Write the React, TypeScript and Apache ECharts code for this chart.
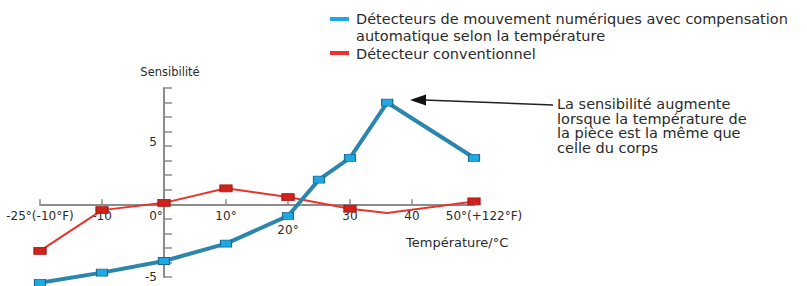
import React, { useEffect, useRef } from "react";
import * as echarts from "echarts";

// Temperature positions (°C, on the chart's schematic scale: the "-25" point sits one step left of -10)
const compensatedTemp = [-20, -10, 0, 10, 20, 25, 30, 36, 50];
const compensatedSens = [-5.4, -4.7, -3.9, -2.7, -0.8, 1.7, 3.2, 7.0, 3.2];
const conventionalTemp = [-20, -10, 0, 10, 20, 30, 36, 50];
const conventionalSens = [-3.2, -0.4, 0.1, 1.1, 0.5, -0.3, -0.6, 0.2];
const conventionalMarked = [true, true, true, true, true, true, false, true];

const xTickValues = [-20, -10, 0, 10, 20, 30, 40, 50];
const xTickLabels = ["-25°(-10°F)", "-10", "0°", "10°", "20°", "30", "40", "50°(+122°F)"];
const yLabelValues = [5, -5];

const seriesNames = [
  "Détecteurs de mouvement numériques avec compensation automatique selon la température",
  "Détecteur conventionnel",
];

const TEXT = "#2a2a2a";
const AXIS = "#8c8c8c";
const FONT = "DejaVu Sans";

const X_MIN = -20;
const X_MAX = 50;
const Y_MIN = -5;
const Y_MAX = 8;
const GRID = { left: 40, right: 333, top: 88, bottom: 9 };
const W = 807;
const H = 286;

export default function App() {
  const ref = useRef<HTMLDivElement>(null);

  useEffect(() => {
    if (!ref.current) return;
    const chart = echarts.init(ref.current, undefined, { renderer: "svg" });

    const gw = W - GRID.left - GRID.right;
    const gh = H - GRID.top - GRID.bottom;
    // shift axes so they cross at the origin (labels follow)
    const zeroYFromBottom = ((0 - Y_MIN) / (Y_MAX - Y_MIN)) * gh;
    const zeroXFromLeft = ((0 - X_MIN) / (X_MAX - X_MIN)) * gw;

    const baseRich = { fontFamily: FONT, fontSize: 12, color: TEXT };

    const option: any = {
      animation: false,
      grid: { ...GRID, containLabel: false, outerBoundsMode: "none" },
      xAxis: {
        type: "value",
        min: X_MIN,
        max: X_MAX,
        interval: 10,
        position: "bottom",
        offset: -zeroYFromBottom,
        axisLine: { onZero: false, lineStyle: { color: AXIS, width: 2 } },
        axisTick: { inside: true, length: 5, lineStyle: { color: AXIS, width: 1.5 } },
        splitLine: { show: false },
        axisLabel: {
          margin: 6,
          fontFamily: FONT,
          fontSize: 12,
          color: TEXT,
          formatter: (v: number) => {
            const i = xTickValues.indexOf(v);
            if (i < 0) return "";
            const t = xTickLabels[i];
            if (v === 0) return "{zero|" + t + "}";
            if (v === 20) return "{low|" + t + "}";
            if (v === 50) return "{right|" + t + "}";
            return "{n|" + t + "}";
          },
          rich: {
            n: { ...baseRich },
            zero: { ...baseRich, padding: [0, 16, 0, 0] },
            low: { ...baseRich, padding: [14, 0, 0, 0] },
            right: { ...baseRich, padding: [0, 0, 0, 20] },
          },
        },
      },
      yAxis: {
        type: "value",
        min: Y_MIN,
        max: Y_MAX,
        interval: 1,
        position: "left",
        offset: -zeroXFromLeft,
        axisLine: { onZero: false, lineStyle: { color: AXIS, width: 2 } },
        axisTick: { inside: true, length: 8, lineStyle: { color: AXIS, width: 1.5 } },
        splitLine: { show: false },
        axisLabel: {
          margin: 7,
          fontFamily: FONT,
          fontSize: 12,
          color: TEXT,
          formatter: (v: number) => {
            if (yLabelValues.indexOf(v) < 0) return "";
            return v > 0 ? "{up|" + v + "}" : "{n|" + v + "}";
          },
          rich: {
            n: { ...baseRich },
            up: { ...baseRich, padding: [20, 0, 0, 0] },
          },
        },
      },
      series: [
        {
          name: seriesNames[0],
          type: "line",
          clip: false,
          data: compensatedTemp.map((t, i) => [t, compensatedSens[i]]),
          symbol: "rect",
          symbolSize: [11, 7],
          showAllSymbol: true,
          lineStyle: { color: "#2a86ad", width: 4 },
          itemStyle: { color: "#1ea8e6", borderColor: "#1c6c8e", borderWidth: 1 },
          z: 3,
        },
        {
          name: seriesNames[1],
          type: "line",
          clip: false,
          data: conventionalTemp.map((t, i) =>
            conventionalMarked[i]
              ? [t, conventionalSens[i]]
              : { value: [t, conventionalSens[i]], symbol: "none" }
          ),
          symbol: "rect",
          symbolSize: [12, 7],
          showAllSymbol: true,
          lineStyle: { color: "#e8342c", width: 2 },
          itemStyle: { color: "#d0221c", borderColor: "#a81812", borderWidth: 1 },
          z: 2,
        },
      ],
      graphic: [
        {
          type: "text",
          x: 170,
          y: 72,
          style: {
            text: "Sensibilité",
            fontFamily: FONT,
            fontSize: 11.5,
            fill: TEXT,
            align: "center",
            verticalAlign: "middle",
          },
        },
        {
          type: "text",
          x: 406,
          y: 242,
          style: {
            text: "Température/°C",
            fontFamily: FONT,
            fontSize: 13,
            fill: TEXT,
            align: "left",
            verticalAlign: "middle",
          },
        },
        {
          type: "line",
          shape: { x1: 330, y1: 19, x2: 349, y2: 19 },
          style: { stroke: "#1ea8e6", lineWidth: 4 },
        },
        {
          type: "text",
          x: 356,
          y: 10.75,
          style: {
            text: "Détecteurs de mouvement numériques avec compensation\nautomatique selon la température",
            fontFamily: FONT,
            fontSize: 14.5,
            lineHeight: 16.5,
            fill: TEXT,
            align: "left",
            verticalAlign: "top",
          },
        },
        {
          type: "line",
          shape: { x1: 330, y1: 53, x2: 349, y2: 53 },
          style: { stroke: "#e8342c", lineWidth: 4 },
        },
        {
          type: "text",
          x: 356,
          y: 53.5,
          style: {
            text: "Détecteur conventionnel",
            fontFamily: FONT,
            fontSize: 14.5,
            fill: TEXT,
            align: "left",
            verticalAlign: "middle",
          },
        },
        {
          type: "line",
          shape: { x1: 553, y1: 105, x2: 424, y2: 100 },
          style: { stroke: "#222", lineWidth: 1.5 },
        },
        {
          type: "polygon",
          shape: { points: [[410, 100], [426, 94.5], [426, 105.5]] },
          style: { fill: "#111" },
        },
        {
          type: "text",
          x: 557,
          y: 97,
          style: {
            text:
              "La sensibilité augmente\nlorsque la température de\nla pièce est la même que\ncelle du corps",
            fontFamily: FONT,
            fontSize: 14.5,
            lineHeight: 14.5,
            fill: TEXT,
            align: "left",
            verticalAlign: "top",
          },
        },
      ],
    };

    chart.setOption(option);
    return () => chart.dispose();
  }, []);

  return (
    <div
      ref={ref}
      style={{ position: "absolute", left: 0, top: 0, width: W, height: H, background: "#fff" }}
    />
  );
}
